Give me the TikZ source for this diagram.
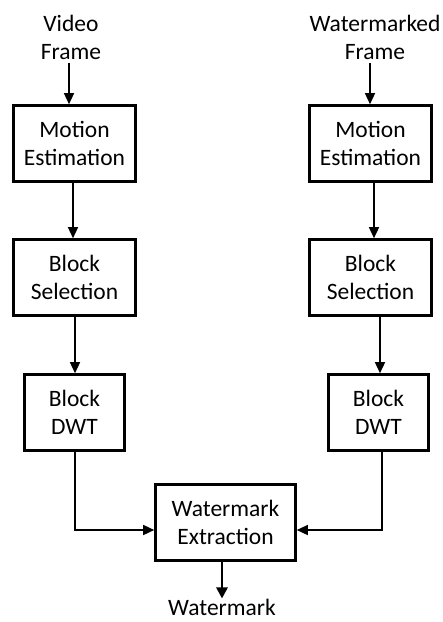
\documentclass[tikz,border=0pt]{standalone}
\usepackage{fontspec}
\setmainfont{Carlito}
\usetikzlibrary{arrows.meta,calc}
\begin{document}
\begin{tikzpicture}[x=1pt,y=-1pt,
  every node/.style={font=\fontsize{23.5}{28}\selectfont, align=center},
  blk/.style={draw, line width=2.6pt, minimum height=76pt, inner sep=0pt},
  conn/.style={line width=1.4pt, -{Triangle[length=11pt,width=10pt]}},
  thick conn/.style={line width=2.6pt, -{Triangle[length=11pt,width=11pt]}},
  lbl/.style={inner sep=2pt}]
\useasboundingbox (0,0) rectangle (443,622);
% left column
\node[lbl] (vf) at (71,37) {Video\\Frame};
\node[blk, minimum width=122pt] (lme) at (74.5,143.5) {Motion\\Estimation};
\node[blk, minimum width=122pt] (lbs) at (74.5,277.5) {Block\\Selection};
\node[blk, minimum width=100pt] (ldw) at (74.5,412.5) {Block\\DWT};
% right column
\node[lbl] (wf) at (375,37) {Watermarked\\Frame};
\node[blk, minimum width=122pt] (rme) at (370.5,143.5) {Motion\\Estimation};
\node[blk, minimum width=122pt] (rbs) at (370.5,277.5) {Block\\Selection};
\node[blk, minimum width=100pt] (rdw) at (378.5,412.5) {Block\\DWT};
% centre
\node[blk, minimum width=140pt] (wx) at (225.5,522.5) {Watermark\\Extraction};
\node[lbl, anchor=base, inner sep=1pt] (wm) at (222,615) {Watermark};
% connectors
\draw[conn] ([xshift=-2pt,yshift=-2pt]vf.south) -- ([xshift=-5.5pt]lme.north);
\draw[conn] ([xshift=-1.5pt]lme.south) -- ([xshift=-1.5pt]lbs.north);
\draw[conn] ([xshift=0.5pt]lbs.south) -- ([xshift=0.5pt]ldw.north);
\draw[conn] ([xshift=-5pt,yshift=-2pt]wf.south) -- ([xshift=-0.5pt]rme.north);
\draw[conn] ([xshift=3.5pt]rme.south) -- ([xshift=3.5pt]rbs.north);
\draw[conn] ([xshift=9.5pt]rbs.south) -- ([xshift=1.5pt]rdw.north);
\draw[conn] ([xshift=0.5pt]ldw.south) |- ([yshift=-7.5pt]wx.west);
\draw[conn] ([xshift=3.5pt]rdw.south) |- ([yshift=-7.5pt]wx.east);
\draw[thick conn] ([xshift=-3.5pt]wx.south) -- ([yshift=-1pt]wm.north);
\end{tikzpicture}
\end{document}
